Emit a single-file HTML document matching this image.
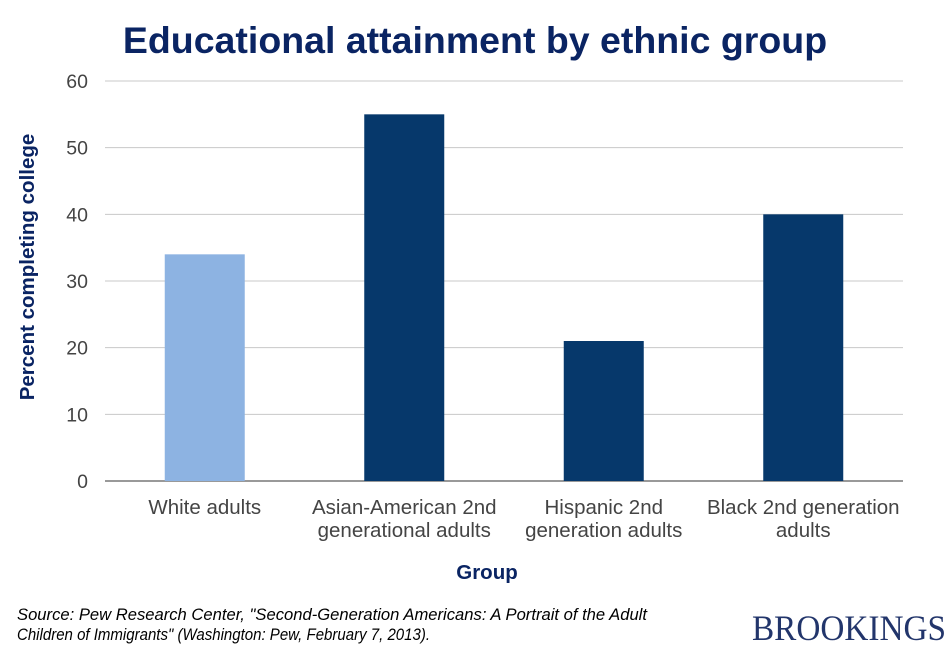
<!DOCTYPE html>
<html><head><meta charset="utf-8"><style>html,body{margin:0;padding:0;background:#fff;}svg{display:block;}</style></head>
<body>
<svg id="chart" width="948" height="651" xmlns="http://www.w3.org/2000/svg">
<rect width="948" height="651" fill="#fff"/>
<text x="475" y="53" text-anchor="middle" font-family="Liberation Sans, sans-serif" font-weight="bold" font-size="37.5" fill="#0a2463">Educational attainment by ethnic group</text>
<g id="grid"></g>
<g id="bars"></g>
<g id="yticks"></g>
<g id="xlabels"></g>
<text transform="translate(34,267) rotate(-90)" text-anchor="middle" font-family="Liberation Sans, sans-serif" font-weight="bold" font-size="20.5" fill="#0a2463">Percent completing college</text>
<text x="487" y="579" text-anchor="middle" font-family="Liberation Sans, sans-serif" font-weight="bold" font-size="20.5" fill="#0a2463">Group</text>
<text x="17" y="620" textLength="630" lengthAdjust="spacingAndGlyphs" font-family="Liberation Sans, sans-serif" font-style="italic" font-size="17" fill="#000">Source: Pew Research Center, "Second-Generation Americans: A Portrait of the Adult</text>
<text x="17" y="640" textLength="413" lengthAdjust="spacingAndGlyphs" font-family="Liberation Sans, sans-serif" font-style="italic" font-size="17" fill="#000">Children of Immigrants" (Washington: Pew, February 7, 2013).</text>
<text x="752" y="640" textLength="194" lengthAdjust="spacingAndGlyphs" font-family="Liberation Serif, serif" font-size="36" fill="#22356b">BROOKINGS</text>
</svg>
<script>
const categories = [["White adults"],["Asian-American 2nd","generational adults"],["Hispanic 2nd","generation adults"],["Black 2nd generation","adults"]];
const values = [34, 55, 21, 40];
const colors = ["#8db3e2","#06386b","#06386b","#06386b"];
const yTicks = [0,10,20,30,40,50,60];
const NS="http://www.w3.org/2000/svg";
const x0=105,x1=903,yBase=481,yTop=81,yMax=60;
const y=v=>yBase-(v/yMax)*(yBase-yTop);
const band=(x1-x0)/categories.length;
const xc=i=>x0+band*(i+0.5);
function mk(tag,attrs,parent){const e=document.createElementNS(NS,tag);for(const k in attrs)e.setAttribute(k,attrs[k]);document.getElementById(parent).appendChild(e);return e;}
yTicks.forEach(t=>{
  const l=mk('line',{x1:x0,x2:x1,y1:y(t),y2:y(t),stroke:t===0?'#333':'#c8c8c8','stroke-width':1},'grid');
  
  
  const tx=mk('text',{x:88,y:y(t)+7,'text-anchor':'end','font-family':'Liberation Sans, sans-serif','font-size':19.5,fill:'#444'},'yticks');
  tx.textContent=t;
  
  
});
values.forEach((v,i)=>{
  const w=80;
  const r=mk('rect',{x:xc(i)-w/2,y:y(v),width:w,height:yBase-y(v),fill:colors[i]},'bars');
  
  
  const tx=mk('text',{x:xc(i),y:514,'text-anchor':'middle','font-family':'Liberation Sans, sans-serif','font-size':20.5,fill:'#444'},'xlabels');
  
  
  categories[i].forEach((ln,j)=>{const s=document.createElementNS(NS,'tspan');s.setAttribute('x',xc(i));s.setAttribute('dy',j?23:0);s.textContent=ln;tx.appendChild(s);});
});
</script>
</body></html>
